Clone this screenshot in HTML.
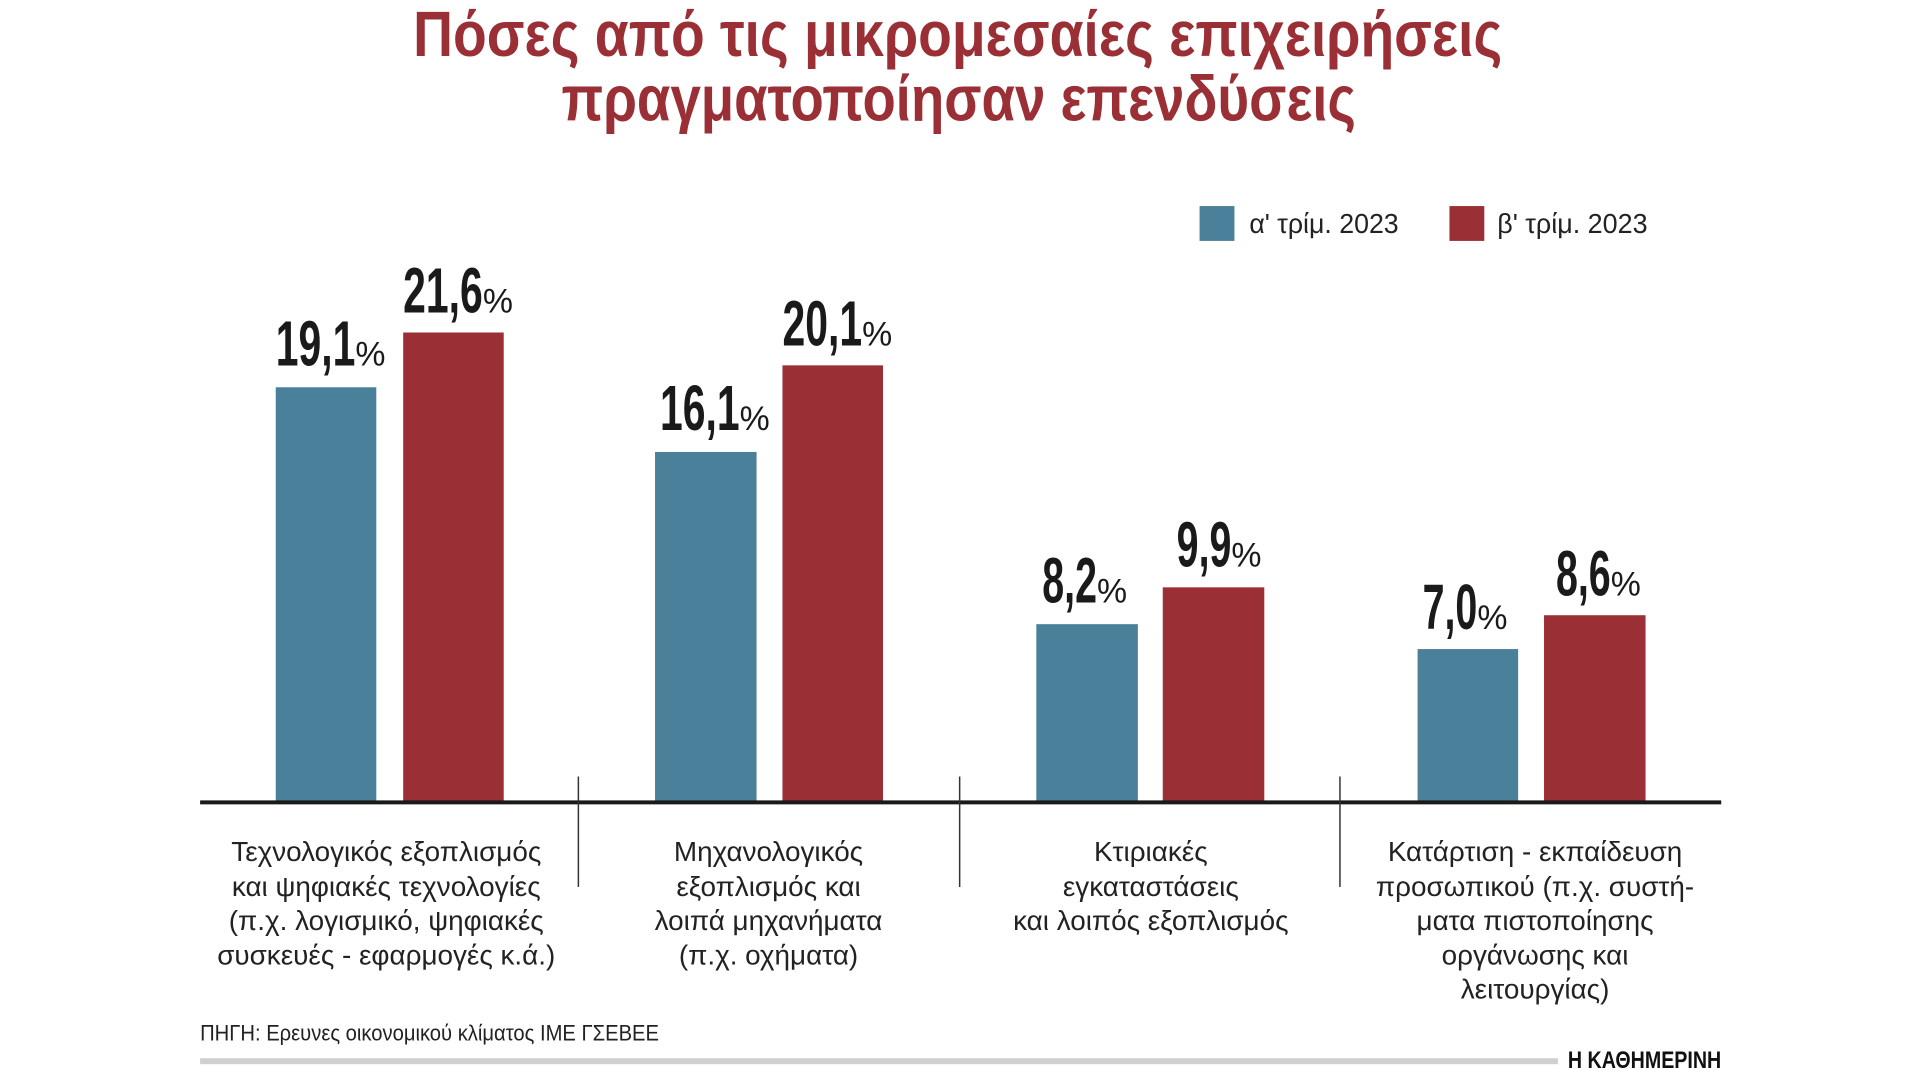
<!DOCTYPE html>
<html><head><meta charset="utf-8"><style>
html,body{margin:0;padding:0;background:#fff;width:1920px;height:1080px;overflow:hidden}
svg{display:block}
text{font-family:"Liberation Sans Narrow","Liberation Sans",sans-serif}
</style></head><body>
<svg width="1920" height="1080" viewBox="0 0 1920 1080" xmlns="http://www.w3.org/2000/svg">
<g transform="scale(0.9955)">
<g fill="#9a2f35" font-weight="bold" font-size="64" text-anchor="start">
<text x="415" y="56" textLength="1094" lengthAdjust="spacingAndGlyphs">Πόσες από τις μικρομεσαίες επιχειρήσεις</text>
<text x="564" y="121" textLength="798" lengthAdjust="spacingAndGlyphs">πραγματοποίησαν επενδύσεις</text>
</g>
<rect x="1205" y="207" width="35" height="35" fill="#4a8099"/>
<text x="1255" y="234" font-size="28" fill="#222" textLength="150" lengthAdjust="spacingAndGlyphs">α' τρίμ. 2023</text>
<rect x="1456" y="207" width="35" height="35" fill="#9a3035"/>
<text x="1504" y="234" font-size="28" fill="#222" textLength="151" lengthAdjust="spacingAndGlyphs">β' τρίμ. 2023</text>
<g fill="#4a8099">
<rect x="277" y="389" width="101" height="417"/>
<rect x="658" y="454" width="102" height="352"/>
<rect x="1041" y="627" width="102" height="179"/>
<rect x="1424" y="652" width="101" height="154"/>
</g>
<g fill="#9a3035">
<rect x="405" y="334" width="101" height="472"/>
<rect x="786" y="367" width="101" height="439"/>
<rect x="1168" y="590" width="102" height="216"/>
<rect x="1551" y="618" width="102" height="188"/>
</g>
<rect x="201" y="804" width="1528" height="4" fill="#1a1a1a"/>
<g stroke="#333" stroke-width="1.5">
<line x1="581" y1="780" x2="581" y2="891"/>
<line x1="964" y1="780" x2="964" y2="891"/>
<line x1="1346" y1="780" x2="1346" y2="891"/>
</g>
<g fill="#1a1a1a" font-weight="bold" font-size="64">
<text x="277" y="367" textLength="80" lengthAdjust="spacingAndGlyphs">19,1</text><text x="357" y="367" font-size="34" font-weight="normal">%</text>
<text x="405" y="314" textLength="80" lengthAdjust="spacingAndGlyphs">21,6</text><text x="485" y="314" font-size="34" font-weight="normal">%</text>
<text x="663" y="432" textLength="80" lengthAdjust="spacingAndGlyphs">16,1</text><text x="743" y="432" font-size="34" font-weight="normal">%</text>
<text x="786" y="347" textLength="80" lengthAdjust="spacingAndGlyphs">20,1</text><text x="866" y="347" font-size="34" font-weight="normal">%</text>
<text x="1047" y="605" textLength="55" lengthAdjust="spacingAndGlyphs">8,2</text><text x="1102" y="605" font-size="34" font-weight="normal">%</text>
<text x="1182" y="569" textLength="55" lengthAdjust="spacingAndGlyphs">9,9</text><text x="1237" y="569" font-size="34" font-weight="normal">%</text>
<text x="1429" y="632" textLength="55" lengthAdjust="spacingAndGlyphs">7,0</text><text x="1484" y="632" font-size="34" font-weight="normal">%</text>
<text x="1563" y="598" textLength="55" lengthAdjust="spacingAndGlyphs">8,6</text><text x="1618" y="598" font-size="34" font-weight="normal">%</text>
</g>
<g fill="#222" font-size="28" text-anchor="middle">
<text x="388" y="865">Τεχνολογικός εξοπλισμός</text>
<text x="388" y="900">και ψηφιακές τεχνολογίες</text>
<text x="388" y="934">(π.χ. λογισμικό, ψηφιακές</text>
<text x="388" y="969">συσκευές - εφαρμογές κ.ά.)</text>
<text x="772" y="865">Μηχανολογικός</text>
<text x="772" y="900">εξοπλισμός και</text>
<text x="772" y="934">λοιπά μηχανήματα</text>
<text x="772" y="969">(π.χ. οχήματα)</text>
<text x="1156" y="865">Κτιριακές</text>
<text x="1156" y="900">εγκαταστάσεις</text>
<text x="1156" y="934">και λοιπός εξοπλισμός</text>
<text x="1542" y="865">Κατάρτιση - εκπαίδευση</text>
<text x="1542" y="900">προσωπικού (π.χ. συστή-</text>
<text x="1542" y="934">ματα πιστοποίησης</text>
<text x="1542" y="969">οργάνωσης και</text>
<text x="1542" y="1003">λειτουργίας)</text>
</g>
<text x="201" y="1045" font-size="22" fill="#222" textLength="461" lengthAdjust="spacingAndGlyphs">ΠΗΓΗ: Ερευνες οικονομικού κλίματος ΙΜΕ ΓΣΕΒΕΕ</text>
<rect x="201" y="1063" width="1364" height="6" fill="#d0d0d2"/>
<text x="1575" y="1073" font-size="24" font-weight="bold" fill="#111" font-family="Liberation Serif,serif" textLength="154" lengthAdjust="spacingAndGlyphs">Η ΚΑΘΗΜΕΡΙΝΗ</text>
</g>
</svg>
</body></html>
